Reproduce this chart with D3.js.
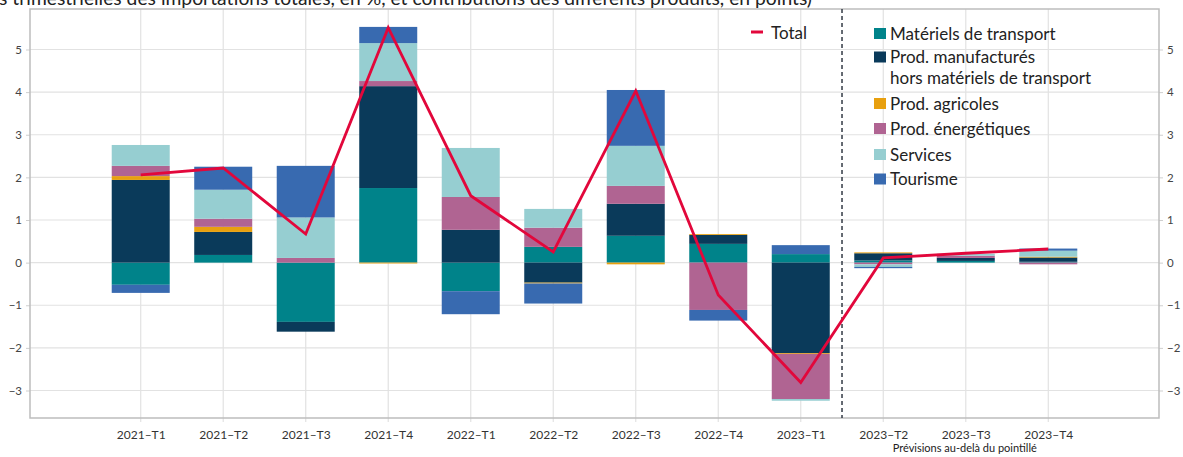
<!DOCTYPE html>
<html>
<head>
<meta charset="utf-8">
<script src="https://cdn.jsdelivr.net/npm/d3@7"></script>
<style>
  body { margin: 0; background: #fff; }
  svg { display: block; font-family: Lato, "Open Sans", sans-serif; }
</style>
</head>
<body>
<div id="chart"></div>
<script>
// categories
const quarters = ['2021–T1', '2021–T2', '2021–T3', '2021–T4', '2022–T1', '2022–T2',
    '2022–T3', '2022–T4', '2023–T1', '2023–T2', '2023–T3', '2023–T4'];

// contributions (points)
const transport    = [-0.52, 0.18, -1.39, 1.75, -0.67, 0.37, 0.63, 0.44, 0.20, 0.05, 0.04, 0.02];
const manufactures = [1.94, 0.54, -0.23, 2.39, 0.77, -0.47, 0.75, 0.21, -2.12, 0.17, 0.07, 0.10];
const agricoles    = [0.09, 0.12, 0.00, -0.02, 0.00, -0.02, -0.04, 0.02, -0.02, 0.02, 0.00, 0.02];
const energetiques = [0.24, 0.19, 0.11, 0.12, 0.77, 0.45, 0.42, -1.11, -1.06, -0.04, 0.05, -0.04];
const services     = [0.49, 0.68, 0.95, 0.89, 1.15, 0.44, 0.94, 0.00, -0.04, -0.06, 0.05, 0.14];
const tourisme     = [-0.19, 0.54, 1.21, 0.38, -0.54, -0.47, 1.31, -0.25, 0.21, -0.03, 0.00, 0.05];

// total growth (%)
const total = [2.06, 2.22, 0.67, 5.51, 1.57, 0.25, 4.03, -0.76, -2.81, 0.11, 0.22, 0.32];

const yTicks = [-3, -2, -1, 0, 1, 2, 3, 4, 5];

const series = [
    { key: 'transport', label: ['Matériels de transport'], color: '#00838a', values: transport },
    { key: 'manuf', label: ['Prod. manufacturés', 'hors matériels de transport'], color: '#0a3a5a', values: manufactures },
    { key: 'agri', label: ['Prod. agricoles'], color: '#e8a00f', values: agricoles },
    { key: 'energ', label: ['Prod. énergétiques'], color: '#b06492', values: energetiques },
    { key: 'serv', label: ['Services'], color: '#96ced1', values: services },
    { key: 'tour', label: ['Tourisme'], color: '#386ab0', values: tourisme }
];

const width = 1183, height = 457;
const plot = { left: 30, right: 1159, top: 9, bottom: 418 };

const svg = d3.select('#chart').append('svg')
    .attr('width', width)
    .attr('height', height);

const x = d3.scalePoint()
    .domain(quarters)
    .range([plot.left, plot.right])
    .padding(1.342);

const y = d3.scaleLinear()
    .domain([-3.645, 5.95])
    .range([plot.bottom, plot.top]);

const barW = 58;

// title, partly above the page edge as in the source
svg.append('text')
    .attr('x', 812)
    .attr('y', 5)
    .attr('text-anchor', 'end')
    .attr('font-size', 19.3)
    .attr('fill', '#222')
    .text('(Variations trimestrielles des importations totales, en %, et contributions des différents produits, en points)');

// grid
const grid = svg.append('g');
grid.selectAll('.hgrid')
    .data(yTicks)
    .enter().append('line')
    .attr('x1', plot.left).attr('x2', plot.right)
    .attr('y1', d => y(d)).attr('y2', d => y(d))
    .attr('stroke', '#e2e2e2').attr('stroke-width', 1.2);
grid.selectAll('.vgrid')
    .data(quarters)
    .enter().append('line')
    .attr('x1', d => x(d)).attr('x2', d => x(d))
    .attr('y1', plot.top).attr('y2', plot.bottom + 4)
    .attr('stroke', '#e2e2e2').attr('stroke-width', 1.2);

// axes
const axisL = svg.append('g')
    .attr('transform', `translate(${plot.left},0)`)
    .call(d3.axisLeft(y).tickValues(yTicks).tickSize(4).tickPadding(4));
const axisR = svg.append('g')
    .attr('transform', `translate(${plot.right},0)`)
    .call(d3.axisRight(y).tickValues(yTicks).tickSize(4).tickPadding(4));
[axisL, axisR].forEach(a => {
    a.select('.domain').remove();
    a.selectAll('.tick line').attr('stroke', '#cfcfcf');
    a.selectAll('.tick text').attr('fill', '#444').attr('font-size', 11.5)
        .attr('font-family', 'Lato, "Open Sans", sans-serif');
});

const axisB = svg.append('g')
    .attr('transform', `translate(0,${plot.bottom})`)
    .call(d3.axisBottom(x).tickSize(0).tickPadding(12));
axisB.select('.domain').remove();
axisB.selectAll('.tick text').attr('fill', '#333').attr('font-size', 12)
    .attr('font-family', 'Lato, "Open Sans", sans-serif');

// stacked bars
const rows = quarters.map((q, i) => {
    const r = { q: q };
    series.forEach(s => { r[s.key] = s.values[i]; });
    return r;
});
const stack = d3.stack()
    .keys(series.map(s => s.key))
    .offset(d3.stackOffsetDiverging);
const stacked = stack(rows);

svg.append('g').selectAll('g')
    .data(stacked)
    .enter().append('g')
    .attr('fill', (d, i) => series[i].color)
    .selectAll('rect')
    .data(d => d)
    .enter().append('rect')
    .attr('x', d => x(d.data.q) - barW / 2)
    .attr('width', barW)
    .attr('y', d => y(Math.max(d[0], d[1])))
    .attr('height', d => Math.abs(y(d[0]) - y(d[1])));

// frame
svg.append('rect')
    .attr('x', plot.left).attr('y', plot.top)
    .attr('width', plot.right - plot.left)
    .attr('height', plot.bottom - plot.top)
    .attr('fill', 'none')
    .attr('stroke', '#bdbdbd')
    .attr('stroke-width', 1.5);

// forecast separator
const sepX = (x(quarters[8]) + x(quarters[9])) / 2;
svg.append('line')
    .attr('x1', sepX).attr('x2', sepX)
    .attr('y1', plot.top).attr('y2', plot.bottom)
    .attr('stroke', '#333a45')
    .attr('stroke-width', 1.5)
    .attr('stroke-dasharray', '4,3');

svg.append('text')
    .attr('x', x(quarters[10]) - 1)
    .attr('y', 452)
    .attr('text-anchor', 'middle')
    .attr('font-size', 11)
    .attr('fill', '#222')
    .text('Prévisions au-delà du pointillé');

// total line
const line = d3.line()
    .x((d, i) => x(quarters[i]))
    .y(d => y(d));
svg.append('path')
    .datum(total)
    .attr('d', line)
    .attr('fill', 'none')
    .attr('stroke', '#e2073b')
    .attr('stroke-width', 2.8)
    .attr('stroke-linejoin', 'miter');

// legend
const legend = svg.append('g');
legend.append('line')
    .attr('x1', 751).attr('x2', 763)
    .attr('y1', 32).attr('y2', 32)
    .attr('stroke', '#e2073b').attr('stroke-width', 3);
legend.append('text')
    .attr('x', 771).attr('y', 38.5)
    .attr('font-size', 17).attr('fill', '#222')
    .text('Total');

const legendY = [33.5, 57, 103.5, 128.5, 154.5, 179];
series.forEach((s, i) => {
    const cy = legendY[i];
    legend.append('rect')
        .attr('x', 874).attr('y', cy - 5.5)
        .attr('width', 12).attr('height', 11)
        .attr('fill', s.color);
    s.label.forEach((t, j) => {
        legend.append('text')
            .attr('x', 890).attr('y', cy + 6 + j * 21)
            .attr('font-size', 17).attr('fill', '#222')
            .text(t);
    });
});
</script>
</body>
</html>
